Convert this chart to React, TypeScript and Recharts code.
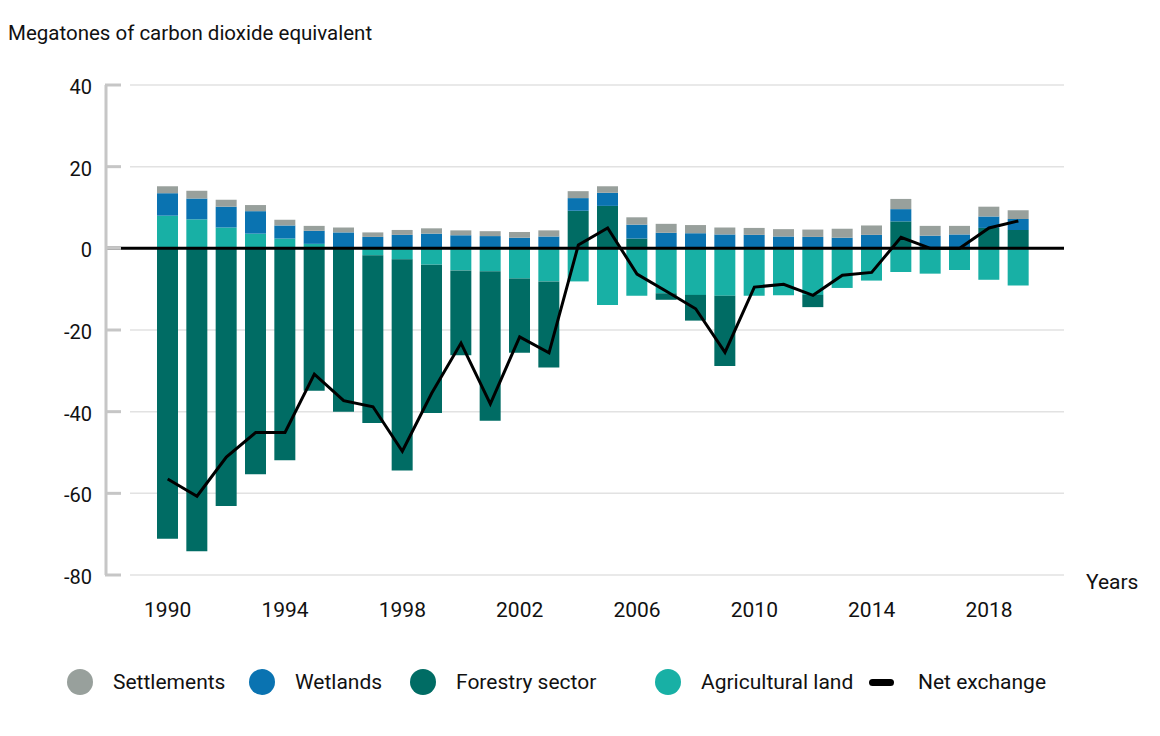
import React from 'react';
import { ComposedChart, Bar, Line, XAxis, YAxis, CartesianGrid, ReferenceLine } from 'recharts';

const years = [
  1990, 1991, 1992, 1993, 1994, 1995, 1996, 1997, 1998, 1999,
  2000, 2001, 2002, 2003, 2004, 2005, 2006, 2007, 2008, 2009,
  2010, 2011, 2012, 2013, 2014, 2015, 2016, 2017, 2018, 2019,
];

const agricultural = [
  8.0, 7.1, 5.1, 3.6, 2.4, 1.1, 0, -1.7, -2.7, -4.0,
  -5.4, -5.6, -7.4, -8.1, -8.1, -13.9, -11.6, -11.0, -11.4, -11.6,
  -11.6, -11.5, -11.4, -9.7, -7.9, -5.8, -6.2, -5.3, -7.7, -9.1,
];

const forestry = [
  -71.1, -74.2, -63.1, -55.3, -51.9, -34.9, -40.0, -41.1, -51.7, -36.3,
  -20.8, -36.6, -18.2, -21.1, 9.2, 10.4, 2.4, -1.6, -6.3, -17.2,
  0, 0, -3.0, 0, 0, 6.6, 0, 0, 5.0, 4.5,
];

const wetlands = [
  5.5, 5.1, 5.1, 5.5, 3.2, 3.2, 3.9, 2.8, 3.3, 3.6,
  3.2, 3.0, 2.6, 2.9, 3.1, 3.2, 3.4, 3.8, 3.7, 3.4,
  3.3, 2.9, 2.8, 2.6, 3.3, 3.0, 3.1, 3.4, 2.8, 2.7,
];

const settlements = [
  1.7, 1.9, 1.7, 1.5, 1.4, 1.2, 1.2, 1.1, 1.2, 1.3,
  1.2, 1.2, 1.4, 1.5, 1.7, 1.6, 1.8, 2.2, 2.0, 1.7,
  1.7, 1.8, 1.8, 2.2, 2.3, 2.5, 2.4, 2.1, 2.4, 2.1,
];

const netExchange = [
  -56.5, -60.7, -51.1, -45.1, -45.1, -30.8, -37.3, -38.8, -49.7, -35.5,
  -23.2, -38.1, -21.7, -25.6, 0.8, 5.0, -6.3, -10.5, -14.8, -25.5,
  -9.5, -8.8, -11.5, -6.6, -5.9, 2.7, 0, 0, 5.0, 6.7,
];

const yTicks = [-80, -60, -40, -20, 0, 20, 40];

const colors = {
  settlements: '#98a09c',
  wetlands: '#0a73b1',
  forestry: '#006c64',
  agricultural: '#18b0a5',
};

const data = years.map((year, i) => ({
  year,
  agricultural: agricultural[i],
  forestry: forestry[i],
  wetlands: wetlands[i],
  settlements: settlements[i],
  net: netExchange[i],
}));

const legendItems = [
  { name: 'Settlements', color: colors.settlements, kind: 'dot', left: 67 },
  { name: 'Wetlands', color: colors.wetlands, kind: 'dot', left: 249 },
  { name: 'Forestry sector', color: colors.forestry, kind: 'dot', left: 410 },
  { name: 'Agricultural land', color: colors.agricultural, kind: 'dot', left: 655 },
  { name: 'Net exchange', color: '#000', kind: 'line', left: 869 },
];

const font = 'Roboto, sans-serif';

const YTick = (props: any) => {
  const { x, y, payload } = props;
  return (
    <g>
      <text x={x} y={y} dy={9} textAnchor="end" fontSize={20} fontFamily={font} fill="#111">
        {payload.value}
      </text>
      <line x1={x + 13} x2={x + 29} y1={y} y2={y} stroke="#c6c6c6" strokeWidth={3} />
    </g>
  );
};

const gridLine = (p: any) => (
  <line key={p.key} x1={p.x1 + 24} x2={p.x2} y1={p.y1} y2={p.y2} stroke="#e2e2e2" strokeWidth={1.5} />
);

const App: React.FC = () => {
  return (
    <div style={{ position: 'absolute', left: 0, top: 0, width: 1160, height: 736, background: '#fff', fontFamily: font }}>
      <div style={{ position: 'absolute', left: 8, top: 21, fontSize: 20.5, lineHeight: '24px', color: '#111' }}>
        Megatones of carbon dioxide equivalent
      </div>
      <div style={{ position: 'absolute', left: 1086, top: 570, fontSize: 21, lineHeight: '24px', color: '#111' }}>
        Years
      </div>
      <ComposedChart
        width={1160}
        height={736}
        data={data}
        stackOffset="sign"
        margin={{ top: 85, right: 96, bottom: 121, left: 0 }}
      >
        <CartesianGrid vertical={false} horizontal={gridLine} />
        <XAxis
          dataKey="year"
          interval={3}
          axisLine={false}
          tickLine={false}
          tickSize={0}
          tickMargin={27}
          height={40}
          padding={{ left: 47, right: 31 }}
          tick={{ fontSize: 21, fontFamily: font, fill: '#111' }}
        />
        <YAxis
          domain={[-80, 40]}
          ticks={yTicks}
          width={106}
          tickSize={0}
          tickMargin={14}
          tickLine={false}
          axisLine={{ stroke: '#c6c6c6', strokeWidth: 3 }}
          tick={<YTick />}
        />
        <Bar dataKey="agricultural" name="Agricultural land" stackId="a" fill={colors.agricultural} barSize={21} isAnimationActive={false} />
        <Bar dataKey="forestry" name="Forestry sector" stackId="a" fill={colors.forestry} barSize={21} isAnimationActive={false} />
        <Bar dataKey="wetlands" name="Wetlands" stackId="a" fill={colors.wetlands} barSize={21} isAnimationActive={false} />
        <Bar dataKey="settlements" name="Settlements" stackId="a" fill={colors.settlements} barSize={21} isAnimationActive={false} />
        <ReferenceLine y={0} stroke="#000" strokeWidth={3} />
        <Line
          type="linear"
          dataKey="net"
          name="Net exchange"
          stroke="#000"
          strokeWidth={3}
          dot={false}
          activeDot={false}
          isAnimationActive={false}
        />
      </ComposedChart>
      {legendItems.map((item) => (
        <div
          key={item.name}
          style={{ position: 'absolute', left: item.left, top: 669, height: 26, display: 'flex', alignItems: 'center', fontSize: 21, color: '#111' }}
        >
          {item.kind === 'dot' ? (
            <span style={{ width: 26, height: 26, borderRadius: 13, background: item.color, display: 'inline-block' }} />
          ) : (
            <span style={{ width: 25, height: 7, borderRadius: 4, background: item.color, display: 'inline-block' }} />
          )}
          <span style={{ marginLeft: item.kind === 'dot' ? 20 : 24 }}>{item.name}</span>
        </div>
      ))}
    </div>
  );
};

export default App;
